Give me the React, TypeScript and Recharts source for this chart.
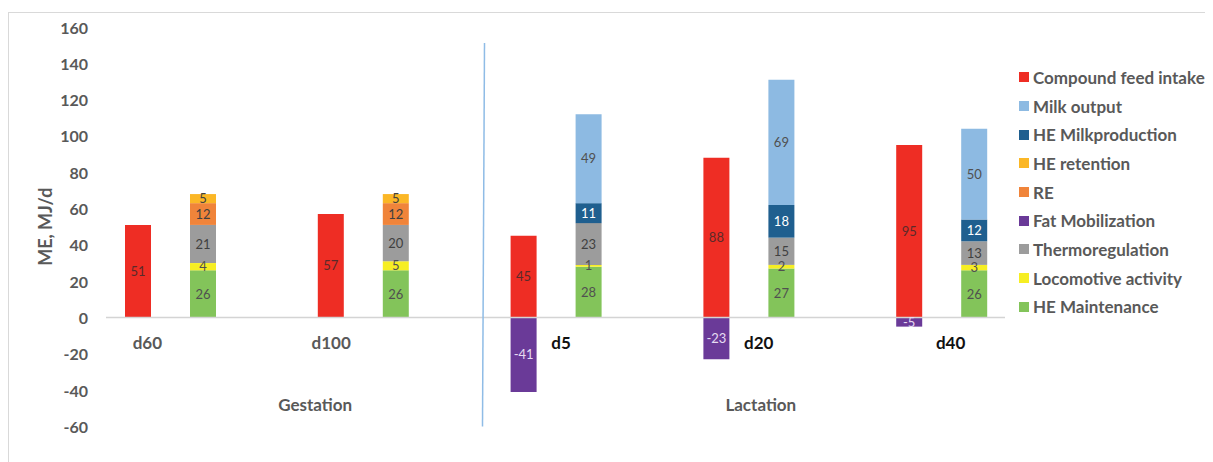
import { BarChart, Bar, XAxis, YAxis, Legend, LabelList, ReferenceLine } from 'recharts';

const days = ['d60', 'd100', 'd5', 'd20', 'd40'];
const feedIntake = [51, 57, 45, 88, 95];
const fatMobilization = [0, 0, -41, -23, -5];
const heMaintenance = [26, 26, 28, 27, 26];
const locomotiveActivity = [4, 5, 1, 2, 3];
const thermoregulation = [21, 20, 23, 15, 13];
const retainedEnergy = [12, 12, 0, 0, 0];
const heRetention = [5, 5, 0, 0, 0];
const heMilkproduction = [0, 0, 11, 18, 12];
const milkOutput = [0, 0, 49, 69, 50];
const yTicks = [-60, -40, -20, 0, 20, 40, 60, 80, 100, 120, 140, 160];

const data = days.map((day, i) => ({
  day,
  feed: feedIntake[i],
  fat: fatMobilization[i],
  maint: heMaintenance[i],
  loco: locomotiveActivity[i],
  thermo: thermoregulation[i],
  re: retainedEnergy[i],
  ret: heRetention[i],
  heMilk: heMilkproduction[i],
  milk: milkOutput[i],
}));

// drawing order: intake column first, then the output column bottom -> top
const series = [
  { key: 'feed', name: 'Compound feed intake', color: '#EE2D24', stack: 'in', text: '#5a2a2a' },
  { key: 'fat', name: 'Fat Mobilization', color: '#6A3A98', stack: 'in', text: '#e6dcf2' },
  { key: 'maint', name: 'HE Maintenance', color: '#83C45A', stack: 'out', text: '#505050' },
  { key: 'loco', name: 'Locomotive activity', color: '#F6EE23', stack: 'out', text: '#505050' },
  { key: 'thermo', name: 'Thermoregulation', color: '#9C9C9C', stack: 'out', text: '#404040' },
  { key: 're', name: 'RE', color: '#F0843A', stack: 'out', text: '#404040' },
  { key: 'ret', name: 'HE retention', color: '#FBB726', stack: 'out', text: '#404040' },
  { key: 'heMilk', name: 'HE Milkproduction', color: '#1F5F8F', stack: 'out', text: '#ffffff' },
  { key: 'milk', name: 'Milk output', color: '#8DBAE2', stack: 'out', text: '#505050' },
];

const legendOrder = ['feed', 'milk', 'heMilk', 'ret', 're', 'fat', 'thermo', 'loco', 'maint'];

// day labels sit a little off the column pair
const dayShift: Record<string, number> = { d60: -23, d100: -32, d5: 5, d20: 10, d40: 9 };

function DayTick(props: any) {
  const { x, y, payload } = props;
  const day = payload.value as string;
  const lactation = day === 'd5' || day === 'd20' || day === 'd40';
  return (
    <g>
      <text
        x={x + dayShift[day]}
        y={y - 84.5}
        textAnchor="middle"
        dominantBaseline="central"
        fontSize={17}
        fontWeight={700}
        fill={lactation ? '#111111' : '#595959'}
      >
        {day}
      </text>
      {day === 'd100' && (
        <text x={x - 48} y={y - 22.5} textAnchor="middle" dominantBaseline="central" fontSize={17} fontWeight={700} fill="#595959">
          Gestation
        </text>
      )}
      {day === 'd20' && (
        <text x={x + 12} y={y - 22.5} textAnchor="middle" dominantBaseline="central" fontSize={17} fontWeight={700} fill="#595959">
          Lactation
        </text>
      )}
      {day === 'd5' && <line x1={x - 71.5} y1={y - 383.5} x2={x - 73.5} y2={y} stroke="#8FBCE6" strokeWidth={1.5} />}
    </g>
  );
}

function YTick(props: any) {
  const { x, y, payload } = props;
  return (
    <text x={x} y={y} textAnchor="end" dominantBaseline="central" fontSize={16} fontWeight={700} fill="#595959">
      {payload.value}
    </text>
  );
}

function LegendList() {
  return (
    <div>
      {legendOrder.map((k) => {
        const s = series.find((it) => it.key === k)!;
        return (
          <div key={k} style={{ display: 'flex', alignItems: 'center', height: 28.7 }}>
            <span style={{ width: 10, height: 10, background: s.color, marginRight: 4, flex: 'none' }} />
            <span style={{ fontSize: 17, fontWeight: 700, color: '#595959', whiteSpace: 'nowrap' }}>{s.name}</span>
          </div>
        );
      })}
    </div>
  );
}

const hideZero = (v: any) => (v ? v : '');

export default function App() {
  return (
    <div
      style={{
        marginTop: 4,
        width: 1204,
        height: 449,
        borderTop: '1px solid #d9d9d9',
        borderLeft: '1px solid #d9d9d9',
        fontFamily: 'Lato, sans-serif',
      }}
    >
      <style>{'body{overflow:hidden}'}</style>
      <BarChart
        width={1204}
        height={449}
        data={data}
        stackOffset="sign"
        barSize={26}
        barGap={39}
        margin={{ top: 14, right: 208, left: 0, bottom: 5.5 }}
      >
        <XAxis
          dataKey="day"
          axisLine={false}
          tickLine={false}
          tickSize={0}
          tickMargin={0}
          interval={0}
          height={30}
          padding={{ left: -32, right: -33 }}
          tick={<DayTick />}
        />
        <YAxis
          type="number"
          domain={[-60, 160]}
          ticks={yTicks}
          width={97}
          axisLine={false}
          tickLine={false}
          tickSize={0}
          tickMargin={18}
          tick={<YTick />}
          label={{
            value: 'ME, MJ/d',
            angle: -90,
            position: 'center',
            dx: -11.5,
            style: { fontSize: 18, fontWeight: 700, fill: '#595959' },
          }}
        />
        <ReferenceLine y={0} stroke="#d4d4d4" strokeWidth={1.5} />
        {series.map((s) => (
          <Bar key={s.key} dataKey={s.key} name={s.name} stackId={s.stack} fill={s.color} isAnimationActive={false}>
            <LabelList dataKey={s.key} position="center" formatter={hideZero} fill={s.text} fontSize={13} />
          </Bar>
        ))}
        <Legend
          layout="vertical"
          align="center"
          verticalAlign="middle"
          wrapperStyle={{ top: 50, left: 1010, width: 200 }}
          content={() => <LegendList />}
        />
      </BarChart>
    </div>
  );
}
